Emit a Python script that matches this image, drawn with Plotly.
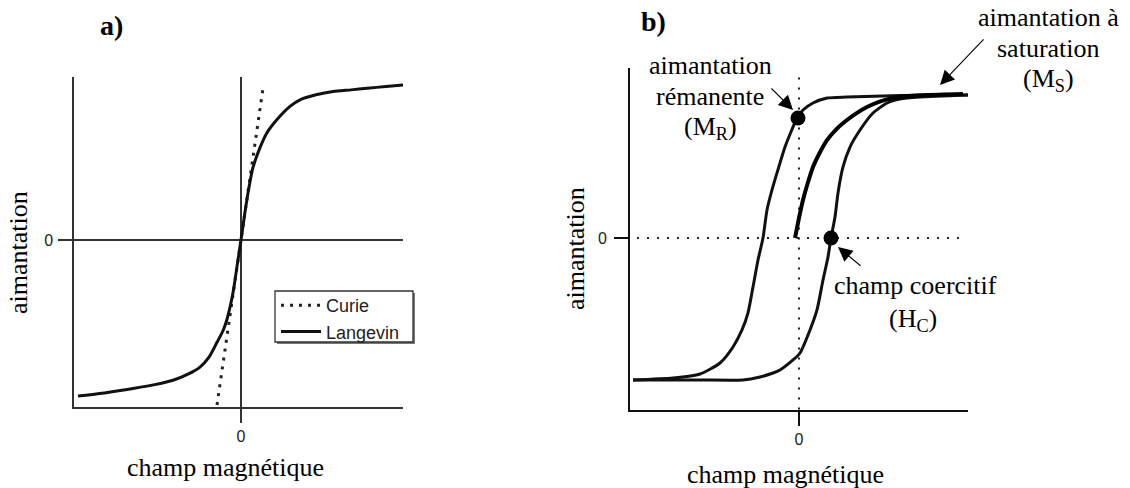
import plotly.graph_objects as go

W, H = 1130, 488

# ---------------- Panel a) data (champ, aimantation) ----------------
langevin_h = [-16.3, -13.5, -10.8, -8.5, -6.8, -5.2, -4.1, -3.2, -2.4, -1.8, -1.4, -0.8, -0.4, 0.0,
              0.4, 0.8, 1.2, 1.9, 2.6, 3.6, 4.9, 5.9, 7.5, 9.2, 11.0, 12.6, 14.5, 16.4]
langevin_m = [-0.945, -0.925, -0.90, -0.875, -0.85, -0.81, -0.77, -0.71, -0.62, -0.55, -0.48, -0.32, -0.16, 0.0,
              0.17, 0.32, 0.44, 0.56, 0.65, 0.73, 0.81, 0.85, 0.88, 0.90, 0.91, 0.92, 0.93, 0.94]
curie_h = [-2.4, 2.25]
curie_m = [-1.0, 0.94]

# ---------------- Panel b) data ----------------
desc_h = [16.9, 10.1, 4.8, 2.8, 1.4, 0.4, -0.2, -0.6, -1.4, -2.2, -2.7, -3.2, -3.6, -4.1, -4.6,
          -5.1, -5.7, -6.6, -7.9, -9.9, -12.6, -16.6]
desc_m = [1.0, 0.996, 0.986, 0.979, 0.944, 0.895, 0.839, 0.776, 0.636, 0.455, 0.336, 0.196, 0.0,
          -0.154, -0.343, -0.524, -0.643, -0.762, -0.874, -0.951, -0.979, -0.993]
asc_h = [-16.6, -9.9, -5.6, -3.9, -2.6, -1.9, -0.6, 0.1, 1.1, 1.8, 2.4, 2.9, 3.2, 3.6, 3.9, 4.4,
         5.1, 6.1, 7.4, 8.8, 10.1, 12.1, 16.9]
asc_m = [-0.993, -0.993, -0.993, -0.972, -0.944, -0.923, -0.853, -0.804, -0.643, -0.503, -0.294,
         -0.133, 0.0, 0.147, 0.315, 0.497, 0.636, 0.755, 0.874, 0.944, 0.972, 0.986, 1.0]
init_h = [-0.4, 0.0, 0.4, 0.9, 1.4, 2.1, 2.8, 3.8, 4.8, 5.8, 6.8, 8.0, 9.4, 11.0, 12.8, 16.4]
init_m = [0.0, 0.14, 0.266, 0.39, 0.497, 0.60, 0.685, 0.765, 0.825, 0.875, 0.916, 0.952, 0.979, 0.993, 1.0, 1.007]
mr_point = (-0.1, 0.839)
hc_point = (3.2, 0.0)

zero_tick = [0]
zero_label = ["0"]

SERIF = "Liberation Serif"
SANS = "Liberation Sans"


def px_x(p):
    return p / W


def px_y(p):
    return 1 - p / H


fig = go.Figure()

# Panel a traces
fig.add_trace(go.Scatter(x=curie_h, y=curie_m, mode="lines", name="Curie",
                         line=dict(color="#222", width=3, dash="3px,6px"),
                         xaxis="x", yaxis="y"))
fig.add_trace(go.Scatter(x=langevin_h, y=langevin_m, mode="lines", name="Langevin",
                         line=dict(color="#111", width=3, shape="spline", smoothing=0.6),
                         xaxis="x", yaxis="y"))

# Panel b zero dotted lines
fig.add_trace(go.Scatter(x=[-16.2, 16.4], y=[0, 0], mode="lines", showlegend=False,
                         line=dict(color="#222", width=2, dash="2px,8px"), xaxis="x2", yaxis="y2"))
fig.add_trace(go.Scatter(x=[0, 0], y=[-1.2, 1.14], mode="lines", showlegend=False,
                         line=dict(color="#222", width=2, dash="2px,8px"), xaxis="x2", yaxis="y2"))
# hysteresis branches
fig.add_trace(go.Scatter(x=desc_h, y=desc_m, mode="lines", showlegend=False,
                         line=dict(color="#111", width=3, shape="spline", smoothing=0.6),
                         xaxis="x2", yaxis="y2"))
fig.add_trace(go.Scatter(x=asc_h, y=asc_m, mode="lines", showlegend=False,
                         line=dict(color="#111", width=3, shape="spline", smoothing=0.6),
                         xaxis="x2", yaxis="y2"))
fig.add_trace(go.Scatter(x=init_h, y=init_m, mode="lines", showlegend=False,
                         line=dict(color="#000", width=4, shape="spline", smoothing=0.6),
                         xaxis="x2", yaxis="y2"))
fig.add_trace(go.Scatter(x=[mr_point[0], hc_point[0]], y=[mr_point[1], hc_point[1]], mode="markers",
                         showlegend=False, marker=dict(color="#000", size=15),
                         xaxis="x2", yaxis="y2", cliponaxis=False))

axis_common = dict(showgrid=False, ticks="outside", ticklen=14, tickvals=zero_tick, ticktext=zero_label,
                   tickfont=dict(family=SANS, size=16, color="#222"), fixedrange=True)

fig.update_layout(
    width=W, height=H, margin=dict(l=0, r=0, t=0, b=0),
    paper_bgcolor="white", plot_bgcolor="white",
    xaxis=dict(domain=[px_x(74), px_x(403)], range=[-16.7, 16.2], anchor="y",
               showline=True, linecolor="#333", linewidth=1.5,
               zeroline=True, zerolinecolor="#333", zerolinewidth=1.5,
               tickcolor="#333", tickwidth=1.5, ticklabelstandoff=0, **axis_common),
    yaxis=dict(domain=[px_y(407), px_y(77)], range=[-1.012, 0.988], anchor="x",
               showline=True, linecolor="#333", linewidth=1.5,
               zeroline=True, zerolinecolor="#333", zerolinewidth=1.5,
               tickcolor="#333", tickwidth=1.5, ticklabelstandoff=2, **axis_common),
    xaxis2=dict(domain=[px_x(630), px_x(968)], range=[-16.9, 16.9], anchor="y2",
                showline=True, linecolor="#111", linewidth=2, zeroline=False,
                tickcolor="#111", tickwidth=2, ticklabelstandoff=0, **axis_common),
    yaxis2=dict(domain=[px_y(410), px_y(68)], range=[-1.2028, 1.1888], anchor="x2",
                showline=True, linecolor="#111", linewidth=2, zeroline=False,
                tickcolor="#111", tickwidth=2, ticklabelstandoff=4, **axis_common),
    legend=dict(x=px_x(276), y=px_y(287), xanchor="left", yanchor="top",
                bgcolor="rgba(0,0,0,0)", borderwidth=0, itemwidth=40,
                font=dict(family=SANS, size=18, color="#222"), tracegroupgap=0),
    showlegend=True,
)

# legend frame and its shadow
fig.add_shape(type="rect", xref="paper", yref="paper", layer="below",
              x0=px_x(277), x1=px_x(415), y0=px_y(344), y1=px_y(293),
              fillcolor="#777", line=dict(width=0))
fig.add_shape(type="rect", xref="paper", yref="paper", layer="below",
              x0=px_x(275), x1=px_x(413), y0=px_y(342), y1=px_y(291),
              fillcolor="white", line=dict(color="#333", width=1.3))


def txt(x, y, s, size=26, bold=False, xanchor="center", angle=0, family=SERIF):
    if bold:
        s = "<b>" + s + "</b>"
    fig.add_annotation(x=px_x(x), y=px_y(y), xref="paper", yref="paper", text=s, showarrow=False,
                       xanchor=xanchor, yanchor="middle", textangle=angle,
                       font=dict(family=family, size=size, color="#000"))


txt(111, 25, "a)", size=28, bold=True)
txt(653, 22, "b)", size=28, bold=True)
txt(225, 467, "champ magnétique")
txt(785, 474, "champ magnétique")
txt(18, 253, "aimantation", angle=-90)
txt(575, 249, "aimantation", angle=-90)
txt(710, 65, "aimantation")
txt(710, 97, "rémanente")
txt(710, 128, "(M<sub>R</sub>)")
txt(1048, 17, "aimantation à")
txt(1048, 48, "saturation")
txt(1048, 80, "(M<sub>S</sub>)")
txt(832, 285, "champ coercitif", xanchor="left")
txt(913, 320, "(H<sub>C</sub>)")


def arrow(xd, yd, ax, ay):
    fig.add_annotation(x=xd, y=yd, xref="x2", yref="y2", text="", showarrow=True,
                       ax=ax, ay=ay, arrowhead=2, arrowsize=2.6, arrowwidth=1.1, arrowcolor="#000",
                       standoff=0)


arrow(-0.6, 0.895, -23, -23)
arrow(3.9, -0.063, 24, 20)
arrow(14.1, 1.07, 45, -47)

fig.write_html("out.html", config={"displayModeBar": False},
               post_script="document.body.style.margin='0px';")
